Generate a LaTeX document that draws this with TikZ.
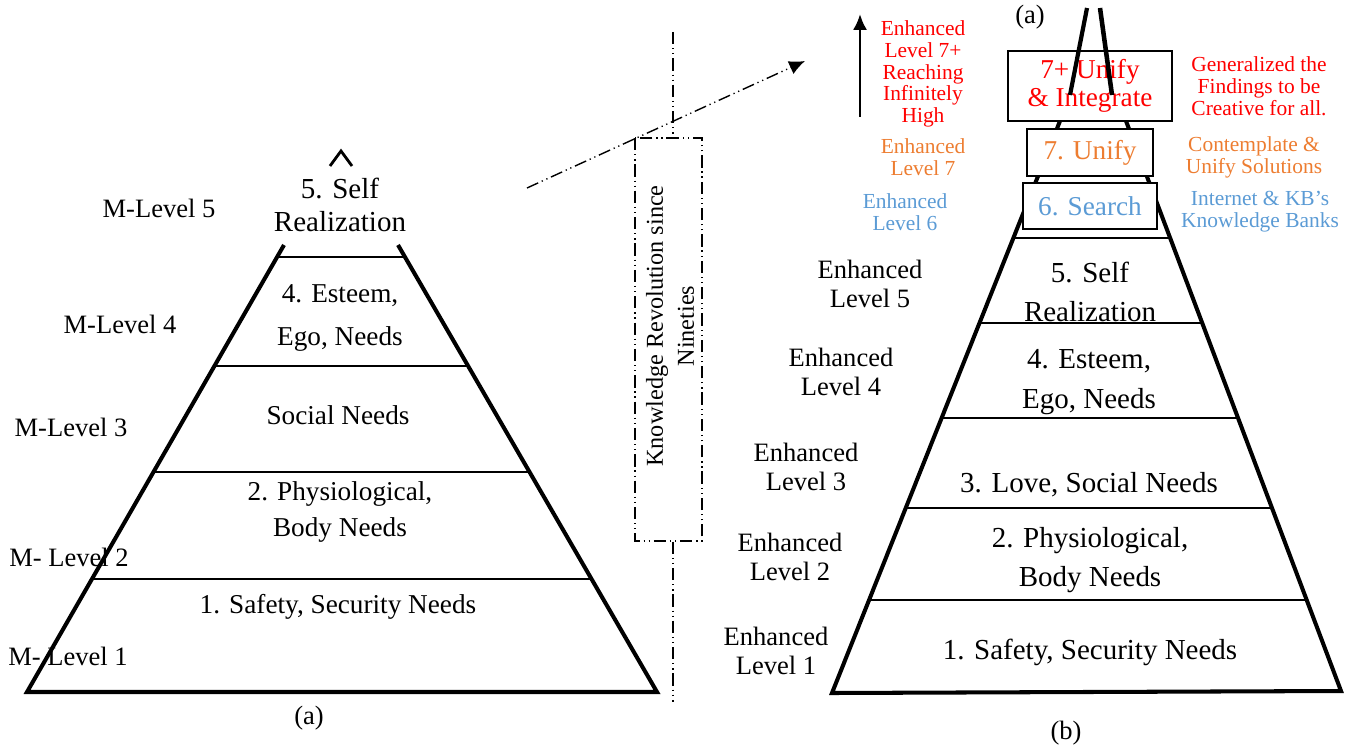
\documentclass[tikz,border=0pt]{standalone}
\usepackage{fontspec}
\setmainfont{Liberation Serif}
\usetikzlibrary{arrows.meta}
\tikzset{>={Latex[length=9pt,width=8pt]}}
\definecolor{redlvl}{RGB}{255,0,0}
\definecolor{orangelvl}{RGB}{237,125,49}
\definecolor{bluelvl}{RGB}{91,155,213}
\tikzset{
    edge/.style={line width=2.3pt},
    tier/.style={line width=1.1pt},
    knowline/.style={line width=0.8pt,dash pattern=on 7pt off 2.2pt on 0.7pt off 2.2pt on 0.7pt off 2.2pt},
    lefttxt/.style={font=\fontsize{15.5}{21}\selectfont,align=center},
    righttxt/.style={font=\fontsize{16.5}{22.5}\selectfont,align=center},
    leveltxt/.style={font=\fontsize{15.1}{16.5}\selectfont,align=center},
    sidetxt/.style={font=\fontsize{12.2}{12.4}\selectfont,align=center},
    lvlbox/.style={draw,line width=1.1pt,fill=white,inner sep=0pt,font=\fontsize{15.5}{16}\selectfont,align=center}
}
\begin{document}
\begin{tikzpicture}[x=0.02cm,y=-0.02cm]
            \useasboundingbox (0,0) rectangle (1354,746);
            \coordinate (la) at (27,692);
            \coordinate (lb) at (657,692);
            \coordinate (lc) at (398,245);
            \coordinate (ld) at (284,245);
            \draw[edge] (ld) -- (la) -- (lb) -- (lc);
            \foreach \y/\a/\b in {257/277.1/405.0,366/214.4/468.1,472/153.5/529.5,579/92.0/591.5}
                \draw[tier] (\a,\y) -- (\b,\y);
            \draw[line width=1.6pt] (330,166) -- (341,151) -- (352,166);
            \node[lefttxt,font=\fontsize{16.5}{18.8}\selectfont] (l5) at (340,205) {5. Self\\Realization};
            \node[lefttxt,font=\fontsize{15.5}{24}\selectfont] (l4) at (340,318) {4. Esteem,\\Ego, Needs};
            \node[lefttxt] (l3) at (338,415) {Social Needs};
            \node[lefttxt] (l2) at (340,512) {2. Physiological,\\Body Needs};
            \node[lefttxt] (l1) at (338,607) {1. Safety, Security Needs};
            \node[leveltxt] (capa) at (309,718) {(a)};
            \node[leveltxt] (m5) at (159,208) {M-Level 5};
            \node[leveltxt] (m4) at (120,324) {M-Level 4};
            \node[leveltxt] (m3) at (71,427) {M-Level 3};
            \node[leveltxt] (m2) at (69,557) {M- Level 2};
            \node[leveltxt] (m1) at (68,656) {M- Level 1};
            \node[knowline,draw,rotate=90,minimum width=8.06cm,minimum height=1.34cm,inner sep=0pt] (kbox) at (668.5,339.5) {};
            \node[rotate=90,font=\fontsize{13.8}{17.6}\selectfont,align=center] (ktext) at (670,326)
                {Knowledge Revolution since\\Nineties};
            \coordinate (ktop) at (673,32);
            \coordinate (kbot) at (673,702);
            \draw[knowline] (ktop) -- (ktop |- kbox.east);
            \draw[knowline] (kbot |- kbox.west) -- (kbot);
            \coordinate (kfrom) at (527,188);
            \coordinate (kto) at (805,61);
            \draw[knowline,->] (kfrom) -- (kto);
            \coordinate (ra) at (832,693);
            \coordinate (rb) at (1341,691);
            \coordinate (rc) at (1126,121);
            \coordinate (rd) at (1060,121);
            \draw[edge] (rd) -- (ra) -- (rb) -- (rc);
            \foreach \y/\a/\b in {238/1013.0/1170.0,323/979.3/1202.3,418/941.5/1238.1,508/905.6/1272.0,600/869.0/1306.7}
                \draw[tier] (\a,\y) -- (\b,\y);
            \node[lvlbox,minimum width=3.28cm,minimum height=1.4cm,text=redlvl] (b7p) at (1090,86) {7+ Unify\\\& Integrate};
            \node[lvlbox,minimum width=2.52cm,minimum height=0.94cm,text=orangelvl] (b7) at (1090,152.5) {7. Unify};
            \node[lvlbox,minimum width=2.68cm,minimum height=0.92cm,text=bluelvl] (b6) at (1090,206) {6. Search};
            \draw[line width=2.4pt] (1070,95) -- (1087,8);
            \draw[line width=2.6pt] (1112,95) -- (1100,8);
            \node[leveltxt] (capa2) at (1030,17) {(a)};
            \node[righttxt] (r5) at (1090,292) {5. Self\\Realization};
            \node[righttxt] (r4) at (1089,382) {4. Esteem,\\Ego, Needs};
            \node[righttxt] (r3) at (1089,485) {3. Love, Social Needs};
            \node[righttxt] (r2) at (1090,560) {2. Physiological,\\Body Needs};
            \node[righttxt] (r1) at (1090,652) {1. Safety, Security Needs};
            \node[leveltxt] (capb) at (1066,733) {(b)};
            \node[leveltxt] (e5) at (870,284) {Enhanced\\Level 5};
            \node[leveltxt] (e4) at (841,372) {Enhanced\\Level 4};
            \node[leveltxt] (e3) at (806,467) {Enhanced\\Level 3};
            \node[leveltxt] (e2) at (790,557) {Enhanced\\Level 2};
            \node[leveltxt] (e1) at (776,651) {Enhanced\\Level 1};
            \coordinate (upbot) at (860,117);
            \coordinate (uptop) at (860,14);
            \draw[->,line width=1.6pt] (upbot) -- (uptop);
            \node[sidetxt,text=redlvl] (e7p) at (923,74) {Enhanced\\Level 7+\\Reaching\\Infinitely\\High};
            \node[sidetxt,text=orangelvl] (e7) at (923,157) {Enhanced\\Level 7};
            \node[sidetxt,text=bluelvl] (e6) at (905,212) {Enhanced\\Level 6};
            \node[sidetxt,text=redlvl] (g7p) at (1259,86) {Generalized the\\Findings to be\\Creative for all.};
            \node[sidetxt,text=orangelvl] (g7) at (1254,157) {Contemplate \&\\Unify Solutions};
            \node[sidetxt,text=bluelvl] (g6) at (1260,212) {Internet \& KB’s\\Knowledge Banks};
        \end{tikzpicture}
\end{document}
